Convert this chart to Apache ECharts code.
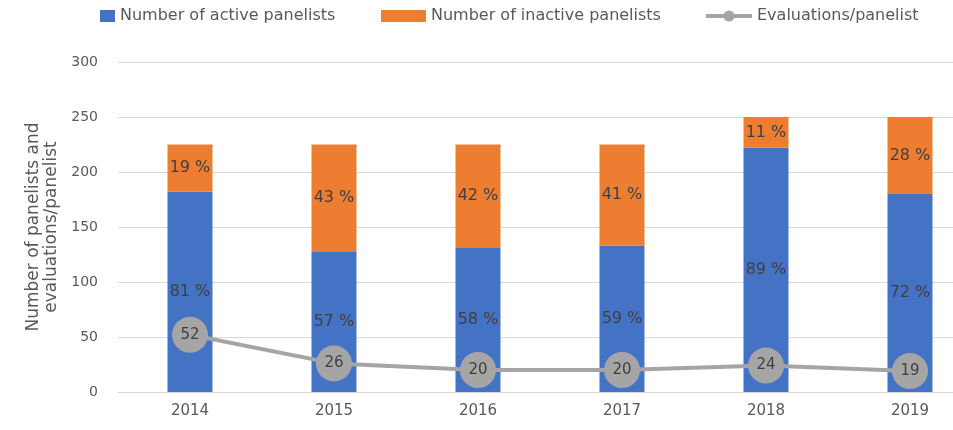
<!DOCTYPE html>
<html>
<head>
<meta charset="utf-8">
<script src="https://cdn.jsdelivr.net/npm/echarts@6/dist/echarts.min.js"></script>
<style>
  html, body { margin: 0; padding: 0; background: #fff; }
</style>
</head>
<body>
<div id="chart" style="width: 953px;height: 430px;"></div>
<script>
// data
const years = ['2014', '2015', '2016', '2017', '2018', '2019']
const activePanelists = [182, 128, 131, 133, 222, 180]
const inactivePanelists = [43, 97, 94, 92, 28, 70]
const evalsPerPanelist = [52, 26, 20, 20, 24, 19]
const yTicks = [0, 50, 100, 150, 200, 250, 300]

const font = 'DejaVu Sans'
const textColor = '#595959'
const labelColor = '#404040'

function pct(arr) {
  return function (p) {
    const total = activePanelists[p.dataIndex] + inactivePanelists[p.dataIndex]
    return Math.round(arr[p.dataIndex] / total * 100) + ' %'
  }
}

const legendText = { color: textColor, fontSize: 16, fontFamily: font }

const chart = echarts.init(document.getElementById('chart'))

chart.setOption({
  animation: false,
  textStyle: { fontFamily: font },
  legend: [
    {
      left: 100, top: 8, padding: 0,
      itemWidth: 15, itemHeight: 12, itemGap: 0,
      textStyle: legendText,
      data: [{ name: 'Number of active panelists', icon: 'rect' }]
    },
    {
      left: 381, top: 8, padding: 0,
      itemWidth: 45, itemHeight: 12,
      textStyle: legendText,
      data: [{ name: 'Number of inactive panelists', icon: 'rect' }]
    },
    {
      left: 704, top: 8, padding: 0,
      itemWidth: 46, itemHeight: 14,
      textStyle: legendText,
      lineStyle: { width: 4 },
      data: [{ name: 'Evaluations/panelist' }]
    }
  ],
  grid: {
    left: 118,
    top: 62,
    width: 864,
    bottom: 38,
    outerBoundsMode: 'none'
  },
  xAxis: {
    type: 'category',
    data: years,
    axisLine: { lineStyle: { color: '#d9d9d9', width: 1 } },
    axisTick: { show: false },
    axisLabel: { color: textColor, fontSize: 15, margin: 12 }
  },
  yAxis: {
    type: 'value',
    min: yTicks[0],
    max: yTicks[yTicks.length - 1],
    interval: 50,
    name: 'Number of panelists and\nevaluations/panelist',
    nameLocation: 'middle',
    nameRotate: 90,
    nameGap: 55,
    nameTextStyle: { color: textColor, fontSize: 17, lineHeight: 18 },
    axisLine: { show: false },
    axisTick: { show: false },
    axisLabel: { color: textColor, fontSize: 14, margin: 20 },
    splitLine: { lineStyle: { color: '#d9d9d9', width: 1 } }
  },
  series: [
    {
      name: 'Number of active panelists',
      type: 'bar',
      stack: 'panel',
      barWidth: 45,
      data: activePanelists,
      itemStyle: { color: '#4472c4' },
      label: {
        show: true,
        position: 'inside',
        color: labelColor,
        fontSize: 16,
        formatter: pct(activePanelists)
      }
    },
    {
      name: 'Number of inactive panelists',
      type: 'bar',
      stack: 'panel',
      barWidth: 45,
      data: inactivePanelists,
      itemStyle: { color: '#ed7d31' },
      label: {
        show: true,
        position: 'inside',
        color: labelColor,
        fontSize: 16,
        formatter: pct(inactivePanelists)
      }
    },
    {
      name: 'Evaluations/panelist',
      type: 'line',
      data: evalsPerPanelist,
      symbol: 'circle',
      symbolSize: 36,
      itemStyle: { color: '#a5a5a5' },
      lineStyle: { color: '#a5a5a5', width: 4 },
      z: 5,
      label: {
        show: true,
        position: 'inside',
        color: labelColor,
        fontSize: 15
      }
    }
  ]
})
</script>
</body>
</html>
